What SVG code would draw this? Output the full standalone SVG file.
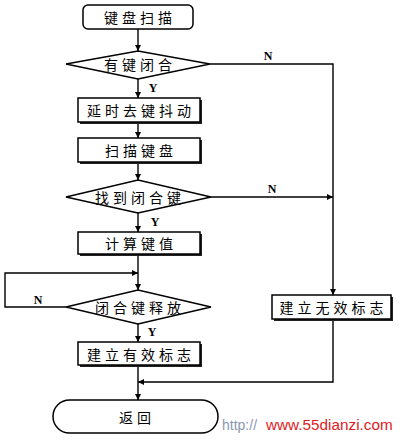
<svg xmlns="http://www.w3.org/2000/svg" width="400" height="440" viewBox="0 0 400 440">
<style>
.box{fill:#fff;stroke:#000;stroke-width:1.5}
.sh{fill:#222}
.ln{fill:none;stroke:#000;stroke-width:1.4}
.t{font-family:"Noto Sans CJK SC","Noto Sans CJK JP",sans-serif;font-size:14px;fill:#000;text-anchor:middle;dominant-baseline:central;letter-spacing:4px}
.yn{font-family:"Liberation Serif",serif;font-weight:bold;font-size:12px;fill:#000;text-anchor:middle}
</style>
<defs>
<marker id="ah" viewBox="0 0 10 10" refX="10" refY="5" markerWidth="6" markerHeight="6" orient="auto" markerUnits="userSpaceOnUse">
<path d="M0,0 L10,5 L0,10 Z" fill="#000"/>
</marker>
</defs>
<rect width="400" height="440" fill="#fff"/>
<g id="connectors">
<line class="ln" x1="138" y1="29" x2="138" y2="51" marker-end="url(#ah)"/>
<line class="ln" x1="138" y1="79" x2="138" y2="98" marker-end="url(#ah)"/>
<line class="ln" x1="138" y1="122" x2="138" y2="138" marker-end="url(#ah)"/>
<line class="ln" x1="138" y1="162" x2="138" y2="180" marker-end="url(#ah)"/>
<line class="ln" x1="138" y1="213" x2="138" y2="232" marker-end="url(#ah)"/>
<line class="ln" x1="138" y1="254" x2="138" y2="290" marker-end="url(#ah)"/>
<line class="ln" x1="138" y1="324" x2="138" y2="342" marker-end="url(#ah)"/>
<line class="ln" x1="138" y1="365" x2="138" y2="400" marker-end="url(#ah)"/>
<polyline class="ln" points="210,64 333,64 333,295" marker-end="url(#ah)"/>
<line class="ln" x1="211" y1="197" x2="333" y2="197" marker-end="url(#ah)"/>
<polyline class="ln" points="66,307 5,307 5,273 138,273" marker-end="url(#ah)"/>
<polyline class="ln" points="333,319 333,382 138,382" marker-end="url(#ah)"/>
<text class="yn" x="268" y="60">N</text>
<text class="yn" x="153" y="92">Y</text>
<text class="yn" x="272" y="193">N</text>
<text class="yn" x="155" y="226">Y</text>
<text class="yn" x="38" y="304">N</text>
<text class="yn" x="152" y="336">Y</text>
</g>
<g id="start">
<rect class="box" x="83" y="5" width="110" height="24" rx="5"/>
<text class="t" x="140" y="17">键盘扫描</text>
</g>
<g id="d1">
<polygon class="box" points="66,64 138,51 210,64 138,79"/>
<text class="t" x="140" y="64">有键闭合</text>
</g>
<g id="delay">
<rect class="sh" x="80" y="100" width="122" height="24"/>
<rect class="box" x="78" y="98" width="122" height="24"/>
<text class="t" x="141" y="110">延时去键抖动</text>
</g>
<g id="scan">
<rect class="sh" x="80" y="140" width="122" height="24"/>
<rect class="box" x="78" y="138" width="122" height="24"/>
<text class="t" x="141" y="150">扫描键盘</text>
</g>
<g id="d2">
<polygon class="box" points="66,197 138,180 211,197 138,213"/>
<text class="t" x="140" y="197">找到闭合键</text>
</g>
<g id="calc">
<rect class="sh" x="80" y="234" width="122" height="22"/>
<rect class="box" x="78" y="232" width="122" height="22"/>
<text class="t" x="141" y="243">计算键值</text>
</g>
<g id="d3">
<polygon class="box" points="66,307 138,290 211,307 138,324"/>
<text class="t" x="140" y="307">闭合键释放</text>
</g>
<g id="valid">
<rect class="sh" x="80" y="344" width="122" height="23"/>
<rect class="box" x="78" y="342" width="122" height="23"/>
<text class="t" x="141" y="353.5">建立有效标志</text>
</g>
<g id="invalid">
<rect class="sh" x="274" y="297" width="119" height="24"/>
<rect class="box" x="272" y="295" width="119" height="24"/>
<text class="t" x="333.5" y="307">建立无效标志</text>
</g>
<g id="end">
<rect class="box" x="53" y="400" width="165" height="33" rx="16.5"/>
<text class="t" x="137" y="416.5">返回</text>
</g>
<text x="222" y="430" font-family="Liberation Sans,sans-serif" font-size="14" fill="#8a98b0">http://</text>
<text x="266" y="430" font-family="Liberation Sans,sans-serif" font-size="15.3" fill="#e0201c">www.55dianzi.com</text>
</svg>
